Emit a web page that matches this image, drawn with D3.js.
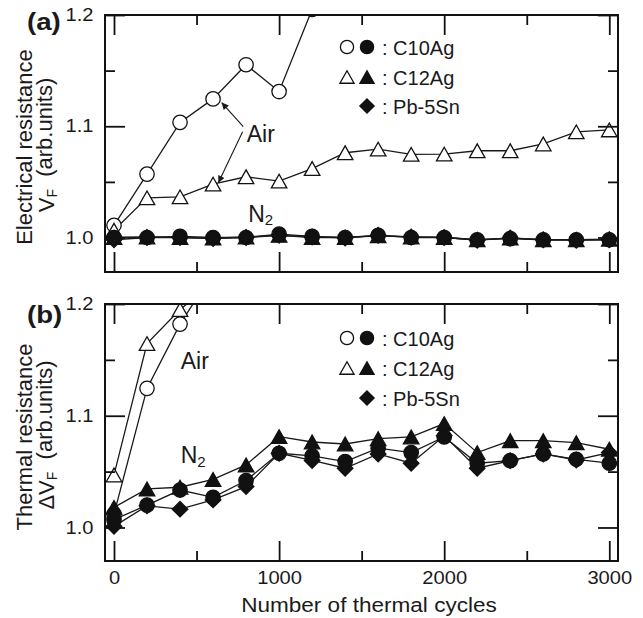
<!DOCTYPE html>
<html><head><meta charset="utf-8">
<script src="https://cdn.jsdelivr.net/npm/d3@7/dist/d3.min.js"></script>
<style>
body{margin:0;background:#fff}
text{font-family:"Liberation Sans",Arial,Helvetica,sans-serif;fill:#1a1a1a}
</style>
</head><body>
<svg id="c" width="643" height="618"></svg>
<script>
// ---------- data ----------
const cycles = [0,200,400,600,800,1000,1200,1400,1600,1800,2000,2200,2400,2600,2800,3000];
const xMajor = [0,1000,2000,3000];
const xMinor = [500,1500,2500];
const xTickLabels = ["0","1000","2000","3000"];
const yMajor = [1.0,1.1,1.2];
const yMinor = [1.05,1.15];
const yTickLabels = ["1.0","1.1","1.2"];

// (a) electrical resistance
const elecC10Air = [1.011,1.057,1.1035,1.1246,1.1553,1.1312,1.205];
const elecC12Air = [1.0066,1.0357,1.0366,1.048,1.0546,1.0507,1.062,1.0762,1.0795,1.0748,1.075,1.078,1.078,1.0841,1.095,1.0967];
const elecC10N2  = [1.0,1.0,1.001,1.0,1.0,1.003,1.001,1.0,1.002,1.0,1.0,0.998,0.999,0.998,0.998,0.998];
const elecC12N2  = [1.0,1.0005,1.0,0.9995,1.0005,1.002,1.0,1.0,1.0015,1.0005,1.0,0.998,0.9995,0.998,0.998,0.9985];
const elecPb     = [0.998,1.0,1.0,0.999,1.0,1.002,1.0005,0.9996,1.002,1.0005,1.0,0.9976,0.9996,0.998,0.9976,0.998];

// (b) thermal resistance
const thermC10Air = [1.012,1.1245,1.182,1.228];
const thermC12Air = [1.047,1.1646,1.195,1.219];
const thermC10N2  = [1.007,1.020,1.0335,1.027,1.042,1.0664,1.064,1.059,1.071,1.067,1.081,1.0575,1.0598,1.0658,1.061,1.0575];
const thermC12N2  = [1.018,1.0345,1.036,1.043,1.056,1.0813,1.0765,1.0747,1.0795,1.081,1.093,1.067,1.0777,1.0777,1.0759,1.070];
const thermPb     = [1.001,1.0194,1.0164,1.0247,1.0366,1.0664,1.060,1.053,1.0658,1.0575,1.082,1.053,1.0598,1.0658,1.0604,1.067];

const legendLabels = [": C10Ag", ": C12Ag", ": Pb-5Sn"];

// ---------- layout ----------
const svg = d3.select("#c");
const L = 105, R = 618;
const x = d3.scaleLinear().domain([-54.5, 3052.7]).range([L, R]);

const panels = [
  {id:"a", top:15, bottom:272, ydom:[0.969,1.2], label:"(a)", labelY:30,
   title1:"Electrical resistance", title2pre:"V", titleCenter:147, showX:false,
   series:[
     {v:elecC10Air, shape:"circle", filled:false},
     {v:elecC12Air, shape:"triangle", filled:false},
     {v:elecC10N2, shape:"circle", filled:true},
     {v:elecC12N2, shape:"triangle", filled:true},
     {v:elecPb, shape:"diamond", filled:true}
   ],
   air:[804,1.0861], n2:[813,1.0141],
   arrows:[[[783,1.0996],[652,1.1213]],[[779,1.0951],[632,1.0492]]],
   legendY:[47,77,106]},
  {id:"b", top:304, bottom:561, ydom:[0.970,1.2], label:"(b)", labelY:323,
   title1:"Thermal resistance", title2pre:"\u0394V", titleCenter:437, showX:true,
   series:[
     {v:thermC10Air, shape:"circle", filled:false},
     {v:thermC12Air, shape:"triangle", filled:false},
     {v:thermC10N2, shape:"circle", filled:true},
     {v:thermC12N2, shape:"triangle", filled:true},
     {v:thermPb, shape:"diamond", filled:true}
   ],
   air:[404,1.1417], n2:[404,1.0575], arrows:[],
   legendY:[338,368,398]}
];

function stretch(sel, k){
  sel.each(function(){
    const w = this.getComputedTextLength();
    this.setAttribute("textLength", (w*k).toFixed(2));
    this.setAttribute("lengthAdjust","spacingAndGlyphs");
  });
}

function symPath(shape, s){
  if(shape==="circle"){
    const r = s;
    return `M${-r},0A${r},${r} 0 1,0 ${r},0A${r},${r} 0 1,0 ${-r},0Z`;
  }
  if(shape==="triangle"){
    const w = s*2.15, h = s*1.9;
    return `M0,${-h/2}L${w/2},${h/2}L${-w/2},${h/2}Z`;
  }
  const d = s*1.08;
  return `M0,${-d}L${d},0L0,${d}L${-d},0Z`;
}
const markerSize = {circle:7.2, triangle:7.2, diamond:7.2};

svg.append("defs").append("marker")
  .attr("id","arrowhead").attr("viewBox","0 0 10 10")
  .attr("refX",10).attr("refY",5)
  .attr("markerWidth",9).attr("markerHeight",7)
  .attr("markerUnits","userSpaceOnUse")
  .attr("orient","auto")
  .append("path").attr("d","M0,0L10,5L0,10Z").attr("fill","#1a1a1a");

panels.forEach(p=>{
  const y = d3.scaleLinear().domain(p.ydom).range([p.bottom, p.top]);
  const g = svg.append("g");

  const clipId = "clip"+p.id;
  svg.select("defs").append("clipPath").attr("id",clipId)
    .append("rect").attr("x",L).attr("y",p.top).attr("width",R-L).attr("height",p.bottom-p.top);

  const plot = g.append("g").attr("clip-path",`url(#${clipId})`);
  const line = d3.line().x(d=>x(d[0])).y(d=>y(d[1]));
  const pts = s => s.v.map((v,i)=>[cycles[i], v]);

  // lines
  p.series.forEach(s=>{
    plot.append("path").datum(pts(s)).attr("d",line)
      .attr("fill","none").attr("stroke","#1a1a1a").attr("stroke-width",1.3);
  });
  // markers
  p.series.forEach(s=>{
    plot.append("g").selectAll("path").data(pts(s)).join("path")
      .attr("transform",d=>`translate(${x(d[0])},${y(d[1])})`)
      .attr("d",symPath(s.shape, markerSize[s.shape]))
      .attr("fill", s.filled ? "#111" : "#fff")
      .attr("stroke","#111").attr("stroke-width",1.3);
  });

  // axes / ticks
  const axG = g.append("g");
  const mk = (axis, tr) => {
    const a = axG.append("g").attr("transform",tr).call(axis);
    a.select(".domain").remove();
    a.selectAll(".tick line").attr("stroke","#111").attr("stroke-width",1.8);
    return a;
  };
  const bx = mk(d3.axisBottom(x).tickValues(xMajor).tickSize(-20).tickPadding(11)
      .tickFormat((d,i)=>p.showX ? xTickLabels[i] : ""), `translate(0,${p.bottom})`);
  mk(d3.axisBottom(x).tickValues(xMinor).tickSize(-10).tickFormat(""), `translate(0,${p.bottom})`);
  mk(d3.axisTop(x).tickValues(xMajor).tickSize(-20).tickFormat(""), `translate(0,${p.top})`);
  mk(d3.axisTop(x).tickValues(xMinor).tickSize(-10).tickFormat(""), `translate(0,${p.top})`);
  const ly = mk(d3.axisLeft(y).tickValues(yMajor).tickSize(-20).tickPadding(11.5)
      .tickFormat((d,i)=>yTickLabels[i]), `translate(${L},0)`);
  mk(d3.axisLeft(y).tickValues(yMinor).tickSize(-10).tickFormat(""), `translate(${L},0)`);
  mk(d3.axisRight(y).tickValues(yMajor).tickSize(-20).tickFormat(""), `translate(${R},0)`);
  mk(d3.axisRight(y).tickValues(yMinor).tickSize(-10).tickFormat(""), `translate(${R},0)`);

  [bx, ly].forEach(a=>{
    a.selectAll("text").attr("font-size",17.5).attr("fill","#1a1a1a")
      .style("font-family",'"Liberation Sans",Arial,sans-serif');
  });
  stretch(bx.selectAll("text").filter(function(){return this.textContent!=="";}), 1.15);
  stretch(ly.selectAll("text"), 1.15);

  // frame
  g.append("rect").attr("x",L).attr("y",p.top).attr("width",R-L).attr("height",p.bottom-p.top)
    .attr("fill","none").attr("stroke","#111").attr("stroke-width",2);

  // panel label
  const pl = g.append("text").attr("x",27).attr("y",p.labelY)
    .attr("font-size",24).attr("font-weight","bold").text(p.label);
  stretch(pl, 1.15);

  // y titles
  g.append("text").attr("transform",`translate(32,${p.titleCenter}) rotate(-90)`)
    .attr("text-anchor","middle").attr("font-size",22).text(p.title1);
  const t2 = g.append("text").attr("transform",`translate(54,${p.titleCenter-2}) rotate(-90)`)
    .attr("text-anchor","middle").attr("font-size",22);
  t2.append("tspan").text(p.title2pre);
  t2.append("tspan").attr("font-size",14).attr("dy","0.2em").text("F");
  t2.append("tspan").attr("dy","-0.2em").text("\u00a0\u00a0(arb.units)");

  // annotations
  g.append("text").attr("x",x(p.air[0])).attr("y",y(p.air[1]))
    .attr("font-size",23).text("Air");
  const n = g.append("text").attr("x",x(p.n2[0])).attr("y",y(p.n2[1])).attr("font-size",23);
  n.append("tspan").text("N");
  n.append("tspan").attr("font-size",15).attr("dy","0.22em").text("2");
  p.arrows.forEach(a=>{
    g.append("line").attr("x1",x(a[0][0])).attr("y1",y(a[0][1]))
      .attr("x2",x(a[1][0])).attr("y2",y(a[1][1]))
      .attr("stroke","#1a1a1a").attr("stroke-width",1.1)
      .attr("marker-end","url(#arrowhead)");
  });

  // legend
  const lg = g.append("g");
  const rows = [
    [{shape:"circle",filled:false,dx:347},{shape:"circle",filled:true,dx:367}],
    [{shape:"triangle",filled:false,dx:347},{shape:"triangle",filled:true,dx:367}],
    [{shape:"diamond",filled:true,dx:367}]
  ];
  rows.forEach((r,i)=>{
    const yy = p.legendY[i];
    r.forEach(m=>{
      lg.append("path").attr("transform",`translate(${m.dx},${yy})`)
        .attr("d",symPath(m.shape, 6.6))
        .attr("fill", m.filled ? "#111" : "#fff")
        .attr("stroke","#111").attr("stroke-width",1.3);
    });
    lg.append("text").attr("x",382).attr("y",yy+8).attr("font-size",20).text(legendLabels[i]);
  });
});

// x title
const xt = svg.append("text").attr("x",369).attr("y",612).attr("text-anchor","middle")
  .attr("font-size",20.5).text("Number of thermal cycles");
stretch(xt, 1.1);
</script>
</body></html>
